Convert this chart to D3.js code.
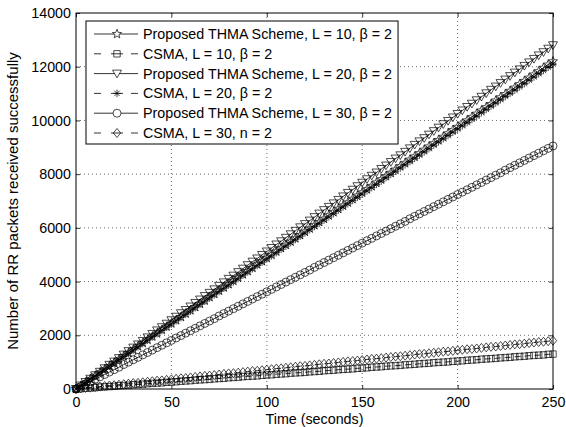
<!DOCTYPE html>
<html>
<head>
<meta charset="utf-8">
<script src="https://cdn.jsdelivr.net/npm/d3@7"></script>
<style>
  body { margin: 0; background: #fff; }
  text { font-family: "Liberation Sans", Arial, sans-serif; }
</style>
</head>
<body>
<div id="chart"></div>
<script>
// time axis (seconds)
var times = [0,2.5,5,7.5,10,12.5,15,17.5,20,22.5,25,27.5,30,32.5,35,37.5,40,42.5,45,47.5,
  50,52.5,55,57.5,60,62.5,65,67.5,70,72.5,75,77.5,80,82.5,85,87.5,90,92.5,95,97.5,
  100,102.5,105,107.5,110,112.5,115,117.5,120,122.5,125,127.5,130,132.5,135,137.5,140,142.5,145,147.5,
  150,152.5,155,157.5,160,162.5,165,167.5,170,172.5,175,177.5,180,182.5,185,187.5,190,192.5,195,197.5,
  200,202.5,205,207.5,210,212.5,215,217.5,220,222.5,225,227.5,230,232.5,235,237.5,240,242.5,245,247.5,250];

// Proposed THMA, L = 10
var thmaL10 = [0,120,240,370,490,610,730,850,980,1100,1220,1340,1460,1590,1710,1830,1950,2070,2200,2320,
  2440,2560,2680,2810,2930,3050,3170,3290,3420,3540,3660,3780,3900,4030,4150,4270,4390,4510,4640,4760,
  4880,5000,5120,5250,5370,5490,5610,5730,5860,5980,6100,6220,6340,6470,6590,6710,6830,6950,7080,7200,
  7320,7440,7560,7690,7810,7930,8050,8170,8300,8420,8540,8660,8780,8910,9030,9150,9270,9390,9520,9640,
  9760,9880,10000,10130,10250,10370,10490,10610,10740,10860,10980,11100,11220,11350,11470,11590,11710,11830,11960,12080,12200];

// CSMA, L = 10
var csmaL10 = [0,10,30,40,50,70,80,90,100,120,130,140,160,170,180,200,210,220,230,250,
  260,270,290,300,310,330,340,350,360,380,390,400,420,430,440,460,470,480,490,510,
  520,530,550,560,570,590,600,610,620,640,650,660,680,690,700,720,730,740,750,770,
  780,790,810,820,830,850,860,870,880,900,910,920,940,950,960,980,990,1000,1010,1030,
  1040,1050,1070,1080,1090,1110,1120,1130,1140,1160,1170,1180,1200,1210,1220,1240,1250,1260,1270,1290,1300];

// Proposed THMA, L = 20
var thmaL20 = [0,130,260,380,510,640,770,900,1020,1150,1280,1410,1540,1660,1790,1920,2050,2180,2300,2430,
  2560,2690,2820,2940,3070,3200,3330,3460,3580,3710,3840,3970,4100,4220,4350,4480,4610,4740,4860,4990,
  5120,5250,5380,5500,5630,5760,5890,6020,6140,6270,6400,6530,6660,6780,6910,7040,7170,7300,7420,7550,
  7680,7810,7940,8060,8190,8320,8450,8580,8700,8830,8960,9090,9220,9340,9470,9600,9730,9860,9980,10110,
  10240,10370,10500,10620,10750,10880,11010,11140,11260,11390,11520,11650,11780,11900,12030,12160,12290,12420,12540,12670,12800];

// CSMA, L = 20
var csmaL20 = [0,120,240,360,480,610,730,850,970,1090,1210,1330,1450,1570,1690,1820,1940,2060,2180,2300,
  2420,2540,2660,2780,2900,3030,3150,3270,3390,3510,3630,3750,3870,3990,4110,4240,4360,4480,4600,4720,
  4840,4960,5080,5200,5320,5450,5570,5690,5810,5930,6050,6170,6290,6410,6530,6660,6780,6900,7020,7140,
  7260,7380,7500,7620,7740,7870,7990,8110,8230,8350,8470,8590,8710,8830,8950,9080,9200,9320,9440,9560,
  9680,9800,9920,10040,10160,10290,10410,10530,10650,10770,10890,11010,11130,11250,11370,11500,11620,11740,11860,11980,12100];

// Proposed THMA, L = 30
var thmaL30 = [0,90,180,270,360,450,540,630,720,810,910,1000,1090,1180,1270,1360,1450,1540,1630,1720,
  1810,1900,1990,2080,2170,2260,2350,2440,2530,2620,2720,2810,2900,2990,3080,3170,3260,3350,3440,3530,
  3620,3710,3800,3890,3980,4070,4160,4250,4340,4430,4530,4620,4710,4800,4890,4980,5070,5160,5250,5340,
  5430,5520,5610,5700,5790,5880,5970,6060,6150,6240,6340,6430,6520,6610,6700,6790,6880,6970,7060,7150,
  7240,7330,7420,7510,7600,7690,7780,7870,7960,8050,8150,8240,8330,8420,8510,8600,8690,8780,8870,8960,9050];

// CSMA, L = 30
var csmaL30 = [0,20,40,50,70,90,110,130,140,160,180,200,220,230,250,270,290,310,320,340,
  360,380,400,410,430,450,470,490,500,520,540,560,580,590,610,630,650,670,680,700,
  720,740,760,770,790,810,830,850,860,880,900,920,940,950,970,990,1010,1030,1040,1060,
  1080,1100,1120,1130,1150,1170,1190,1210,1220,1240,1260,1280,1300,1310,1330,1350,1370,1390,1400,1420,
  1440,1460,1480,1490,1510,1530,1550,1570,1580,1600,1620,1640,1660,1670,1690,1710,1730,1750,1760,1780,1800];

var legendLabels = [
  "Proposed THMA Scheme, L = 10, \u03b2 = 2",
  "CSMA, L = 10, \u03b2 = 2",
  "Proposed THMA Scheme, L = 20, \u03b2 = 2",
  "CSMA, L = 20, \u03b2 = 2",
  "Proposed THMA Scheme, L = 30, \u03b2 = 2",
  "CSMA, L = 30, n = 2"
];
var xTicks = [0, 50, 100, 150, 200, 250];
var yTicks = [0, 2000, 4000, 6000, 8000, 10000, 12000, 14000];

var series = [
  { values: thmaL10, marker: "star", dashed: false },
  { values: csmaL10, marker: "square", dashed: true },
  { values: thmaL20, marker: "triangle", dashed: false },
  { values: csmaL20, marker: "asterisk", dashed: true },
  { values: thmaL30, marker: "circle", dashed: false },
  { values: csmaL30, marker: "diamond", dashed: true }
];

var svgWidth = 566;
var svgHeight = 427;
var margin = { top: 13, right: 13, bottom: 38, left: 76 };
var width = svgWidth - margin.left - margin.right;
var height = svgHeight - margin.top - margin.bottom;

var svg = d3.select("#chart").append("svg")
  .attr("width", svgWidth)
  .attr("height", svgHeight);

var chartGroup = svg.append("g")
  .attr("transform", `translate(${margin.left}, ${margin.top})`);

var xScale = d3.scaleLinear().domain([0, 250]).range([0, width]);
var yScale = d3.scaleLinear().domain([0, 14000]).range([height, 0]);

// dotted grid
chartGroup.append("g").selectAll("line.gx")
  .data(xTicks.slice(1, -1)).enter().append("line")
  .attr("x1", d => xScale(d)).attr("x2", d => xScale(d))
  .attr("y1", 0).attr("y2", height)
  .attr("stroke", "#000").attr("stroke-width", 0.6)
  .attr("stroke-dasharray", "1,3");
chartGroup.append("g").selectAll("line.gy")
  .data(yTicks.slice(1, -1)).enter().append("line")
  .attr("x1", 0).attr("x2", width)
  .attr("y1", d => yScale(d)).attr("y2", d => yScale(d))
  .attr("stroke", "#000").attr("stroke-width", 0.6)
  .attr("stroke-dasharray", "1,3");

// axes (ticks inward, on all four sides)
var fontSize = "14.3px";
var bottomAxis = d3.axisBottom(xScale).tickValues(xTicks).tickSize(-4).tickPadding(8)
  .tickFormat(d3.format("d"));
var leftAxis = d3.axisLeft(yScale).tickValues(yTicks).tickSize(-4).tickPadding(5)
  .tickFormat(d3.format("d"));
var xAxis = chartGroup.append("g")
  .attr("transform", `translate(0, ${height})`)
  .call(bottomAxis);
var yAxis = chartGroup.append("g").call(leftAxis);
chartGroup.append("g")
  .call(d3.axisTop(xScale).tickValues(xTicks).tickSize(-4).tickFormat(""));
chartGroup.append("g")
  .attr("transform", `translate(${width}, 0)`)
  .call(d3.axisRight(yScale).tickValues(yTicks).tickSize(-4).tickFormat(""));
chartGroup.selectAll(".domain").remove();
chartGroup.selectAll(".tick line").attr("stroke", "#000").attr("stroke-width", 0.8);
[xAxis, yAxis].forEach(function(ax) {
  ax.selectAll("text")
    .attr("fill", "#000")
    .style("font-size", fontSize)
    .style("font-family", "'Liberation Sans', Arial, sans-serif");
});

// axes box
chartGroup.append("rect")
  .attr("x", 0).attr("y", 0)
  .attr("width", width).attr("height", height)
  .attr("fill", "none").attr("stroke", "#000").attr("stroke-width", 1);

// marker shape paths, centered at 0,0
function markerPath(type) {
  if (type === "star") {
    var pts = [];
    for (var k = 0; k < 10; k++) {
      var r = k % 2 === 0 ? 4.8 : 2;
      var a = -Math.PI / 2 + k * Math.PI / 5;
      pts.push([r * Math.cos(a), r * Math.sin(a)]);
    }
    return "M" + pts.join("L") + "Z";
  }
  if (type === "square") return "M-3.2,-3.2H3.2V3.2H-3.2Z";
  if (type === "triangle") return "M-4.5,-3.5L4.5,-3.5L0,4.2Z";
  if (type === "asterisk") return "M-3.8,0H3.8M0,-3.8V3.8M-2.7,-2.7L2.7,2.7M-2.7,2.7L2.7,-2.7";
  if (type === "circle") return "M4,0A4,4 0 1,1 -4,0A4,4 0 1,1 4,0Z";
  if (type === "diamond") return "M0,-4.5L3.6,0L0,4.5L-3.6,0Z";
}

var line = d3.line()
  .x((d, i) => xScale(times[i]))
  .y(d => yScale(d));

series.forEach(function(s) {
  chartGroup.append("path")
    .datum(s.values)
    .attr("d", line)
    .attr("fill", "none")
    .attr("stroke", "#000")
    .attr("stroke-width", 0.8)
    .attr("stroke-dasharray", s.dashed ? "6,4" : null);
  chartGroup.append("g").selectAll("path")
    .data(s.values).enter().append("path")
    .attr("transform", (d, i) => `translate(${xScale(times[i])}, ${yScale(d)})`)
    .attr("d", markerPath(s.marker))
    .attr("fill", "none")
    .attr("stroke", "#000")
    .attr("stroke-width", 0.7);
});

// axis labels
svg.append("text")
  .attr("x", margin.left + width / 2)
  .attr("y", 424)
  .attr("text-anchor", "middle")
  .style("font-size", fontSize)
  .text("Time (seconds)");
svg.append("text")
  .attr("transform", `translate(18, ${margin.top + height / 2}) rotate(-90)`)
  .attr("text-anchor", "middle")
  .style("font-size", "15px")
  .text("Number of RR packets received successfully");

// legend
var legend = svg.append("g").attr("transform", "translate(86, 21)");
var legendBox = legend.append("rect")
  .attr("x", 0).attr("y", 0)
  .attr("height", 123)
  .attr("fill", "#fff").attr("stroke", "#000").attr("stroke-width", 1);
var maxW = 0;
series.forEach(function(s, i) {
  var row = legend.append("g").attr("transform", `translate(0, ${13 + i * 19.8})`);
  if (s.dashed) {
    row.append("line").attr("x1", 8).attr("x2", 15).attr("y1", 0).attr("y2", 0)
      .attr("stroke", "#000").attr("stroke-width", 0.8);
    row.append("line").attr("x1", 45).attr("x2", 52).attr("y1", 0).attr("y2", 0)
      .attr("stroke", "#000").attr("stroke-width", 0.8);
    row.append("line").attr("x1", 25).attr("x2", 37).attr("y1", 0).attr("y2", 0)
      .attr("stroke", "#000").attr("stroke-width", 0.8);
  } else {
    row.append("line").attr("x1", 8).attr("x2", 52).attr("y1", 0).attr("y2", 0)
      .attr("stroke", "#000").attr("stroke-width", 0.8);
  }
  row.append("path")
    .attr("transform", "translate(31, 0)")
    .attr("d", markerPath(s.marker))
    .attr("fill", s.dashed ? "none" : "#fff")
    .attr("stroke", "#000").attr("stroke-width", 0.7);
  var t = row.append("text")
    .attr("x", 57).attr("y", 0).attr("dy", "0.35em")
    .style("font-size", fontSize)
    .text(legendLabels[i]);
  maxW = Math.max(maxW, t.node().getComputedTextLength());
});
legendBox.attr("width", 57 + maxW + 6);
</script>
</body>
</html>
